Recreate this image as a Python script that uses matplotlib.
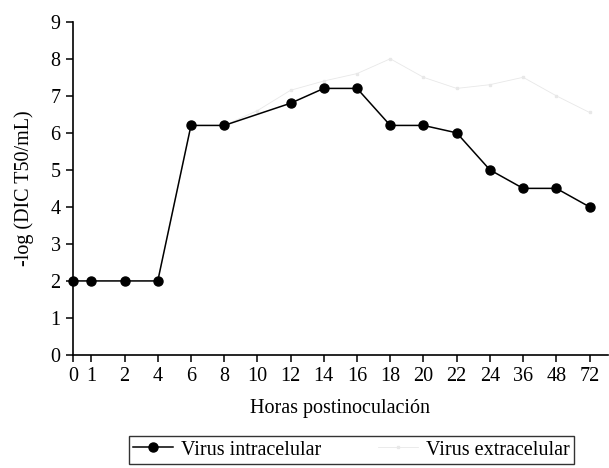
import matplotlib.pyplot as plt
import numpy as np

plt.rcParams['font.family'] = ['Liberation Serif', 'DejaVu Serif']

horas = ['0', '1', '2', '4', '6', '8', '10', '12', '14', '16', '18', '20', '22', '24', '36', '48', '72']
# position of each category on the axis (0 h sits on the y axis)
pos = np.array([-0.55] + list(range(16)))

intra_idx = [0, 1, 2, 3, 4, 5, 7, 8, 9, 10, 11, 12, 13, 14, 15, 16]
intra = [2, 2, 2, 2, 6.2, 6.2, 6.8, 7.2, 7.2, 6.2, 6.2, 6.0, 5.0, 4.5, 4.5, 4.0]

extra = [2, 2, 2, 2, 6.2, 6.2, 6.6, 7.15, 7.4, 7.6, 8.0, 7.5, 7.2, 7.3, 7.5, 7.0, 6.55]

fig = plt.figure(figsize=(6.09, 4.68), dpi=100)
ax = fig.add_axes([0.12, 0.2415, 0.878, 0.712])

ax.plot(pos, extra, color='#e8e8e8', lw=0.6, marker='s', ms=2,
        label='Virus extracelular', zorder=2)
ax.plot(pos[intra_idx], intra, color='black', lw=1.1, marker='o', ms=6.5,
        label='Virus intracelular', zorder=3, clip_on=False)

ax.set_xlim(-0.55, 15.55)
ax.set_ylim(0, 9)
ax.set_yticks(range(10))
ax.set_xticks(pos)
ax.set_xticklabels(horas)
for s in ['top', 'right']:
    ax.spines[s].set_visible(False)
for s in ['left', 'bottom']:
    ax.spines[s].set_linewidth(1.2)
ax.tick_params(direction='out', length=5, width=1.1, labelsize=14.5, pad=4)

ax.set_xlabel('Horas postinoculación', fontsize=14.5, labelpad=9)
ax.set_ylabel('-log (DIC T50/mL)', fontsize=14.5, labelpad=12)

h, l = ax.get_legend_handles_labels()
leg = fig.legend(h[::-1], l[::-1], ncol=2, loc='lower center',
                 bbox_to_anchor=(0.577, -0.012), fontsize=14.5, frameon=True,
                 fancybox=False, edgecolor='black', handlelength=2.0,
                 borderpad=0.2, columnspacing=2.8, handletextpad=0.4)
leg.get_frame().set_linewidth(1.0)

fig.savefig('out.png', dpi=100)
